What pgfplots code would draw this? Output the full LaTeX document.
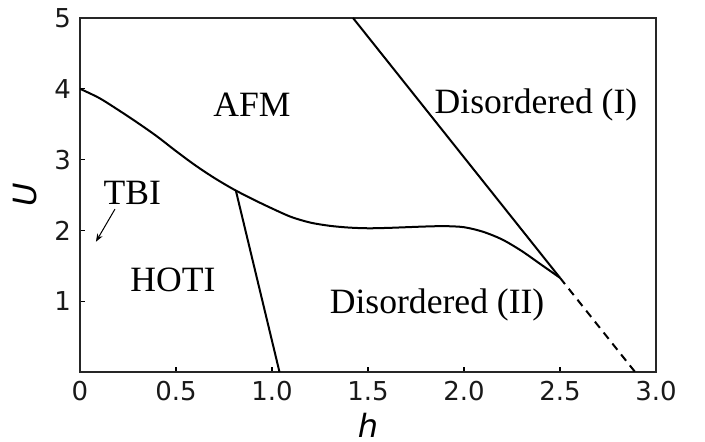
\documentclass[border=0pt]{standalone}
\usepackage{fontspec}
\setmainfont{Liberation Serif}
\newfontfamily\dejavu{DejaVu Sans}
\usepackage{pgfplots}
\pgfplotsset{compat=1.18}
\usetikzlibrary{arrows.meta}

% AFM phase boundary
\pgfplotstableread{
h     U
0.0   4.00
0.1   3.87
0.2   3.70
0.3   3.52
0.4   3.33
0.5   3.12
0.6   2.92
0.7   2.74
0.8   2.58
0.9   2.44
1.0   2.31
1.1   2.19
1.2   2.11
1.3   2.065
1.4   2.04
1.5   2.03
1.6   2.035
1.7   2.045
1.8   2.055
1.9   2.06
2.0   2.045
2.1   1.98
2.2   1.87
2.3   1.71
2.4   1.52
2.5   1.33
}\afmline

\begin{document}
\begin{tikzpicture}
\begin{axis}[
    scale only axis,
    width=288pt, height=177pt,
    xmin=0, xmax=3, ymin=0, ymax=5,
    xtick={0,0.5,1,1.5,2,2.5,3},
    xticklabels={0,0.5,1.0,1.5,2.0,2.5,3.0},
    ytick={1,2,3,4,5},
    tick align=inside,
    xtick pos=lower, ytick pos=left,
    major tick length=2.5pt,
    tick style={black, line width=0.6pt},
    axis line style={black!85, line width=0.8pt},
    /pgf/number format/assume math mode=true,
    tick label style={font=\dejavu\fontsize{13}{15}\selectfont, black!90},
    xticklabel style={yshift=-1pt},
    yticklabel style={xshift=-1pt},
    xlabel={\dejavu\itshape h},
    ylabel={\dejavu\itshape U},
    label style={font=\fontsize{16}{18}\selectfont},
    xlabel style={at={(axis description cs:0.5,-0.15)}, anchor=center},
    ylabel style={at={(axis description cs:-0.0955,0.5)}, anchor=center},
]
\addplot[black, line width=1pt, no markers, smooth] table[x=h, y=U] {\afmline};
\addplot[black, line width=1pt, no markers] coordinates {(0.812,2.56) (1.039,0)};
\addplot[black, line width=1pt, no markers] coordinates {(1.422,5) (2.50,1.33)};
\addplot[black, line width=1pt, no markers, dash pattern=on 4pt off 3pt] coordinates {(2.50,1.33) (2.891,0)};

\draw[-{Stealth[length=4pt,width=3pt]}, line width=0.5pt] (axis cs:0.182,2.30) -- (axis cs:0.083,1.84);

\begin{scope}[every node/.style={font=\fontsize{17.8}{20}\selectfont}]
\node at (axis cs:0.896,3.77) {AFM};
\node at (axis cs:2.375,3.77) {Disordered (I)};
\node at (axis cs:0.273,2.53) {TBI};
\node at (axis cs:0.484,1.30) {HOTI};
\node at (axis cs:1.86,0.95) {Disordered (II)};
\end{scope}
\end{axis}
\pgfresetboundingbox
\useasboundingbox ([shift={(-40pt,-35pt)}]current axis.south west) rectangle ([shift={(24.5pt,9pt)}]current axis.north east);
\end{tikzpicture}
\end{document}
